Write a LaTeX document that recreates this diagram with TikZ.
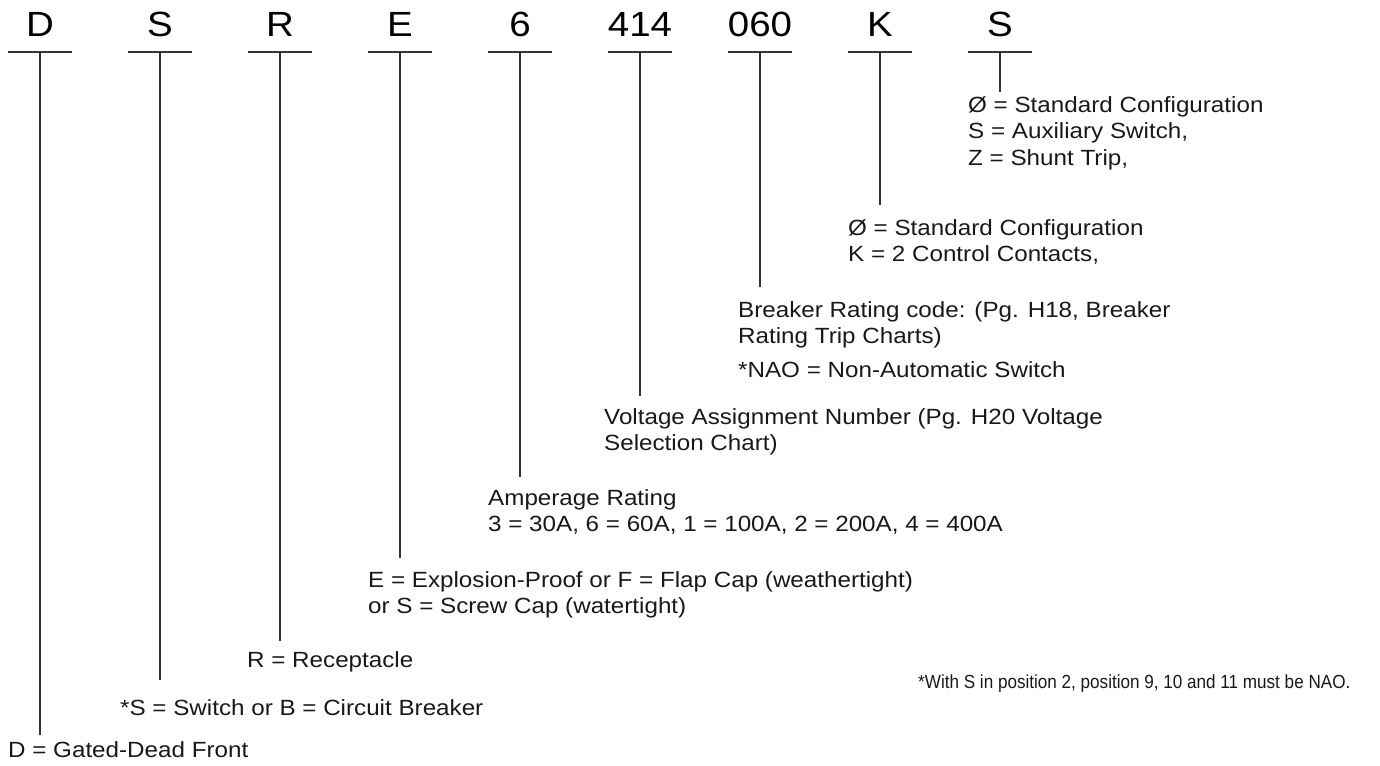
\documentclass[tikz,border=0pt]{standalone}
\usepackage{fontspec}
\setmainfont{Liberation Sans}[FakeStretch=1.1]
\newfontfamily\condfont{Liberation Sans}[FakeStretch=0.9]
\begin{document}
\begin{tikzpicture}[x=1pt,y=-1pt,
  rule/.style={line width=1.1pt, draw=black!80},
  code/.style={font=\fontsize{35}{40}\selectfont, anchor=base, inner sep=0pt},
  lbl/.style={font=\fontsize{22}{26}\selectfont, text=black!90, anchor=base west, inner sep=0pt},
  note/.style={font=\condfont\fontsize{19}{22}\selectfont, text=black!90, anchor=base west, inner sep=0pt}]
\useasboundingbox[fill=white] (0,0) rectangle (1380,765);
% heading characters
\foreach \n/\x/\t in {c1/40/D, c2/160/S, c3/280/R, c4/400/E, c5/520/6, c6/640/414, c7/760/060, c8/880/K, c9/1000/S}{
  \node[code] (\n) at (\x,37) {\t};
  \coordinate (\n u) at (\x,52);
  \draw[rule] (\x-32,52) -- (\x+32,52);
}
% line ends
\coordinate (e1) at (40,735);
\coordinate (e2) at (160,680);
\coordinate (e3) at (280,641);
\coordinate (e4) at (400,558);
\coordinate (e5) at (520,477);
\coordinate (e6) at (640,396);
\coordinate (e7) at (760,287);
\coordinate (e8) at (880,205);
\coordinate (e9) at (1000,92);
\foreach \i in {1,...,9}{\draw[rule] (c\i u) -- (e\i);}
% labels
\node[lbl] (s9a) at (968,113) {Ø = Standard Configuration};
\node[lbl] (s9b) at (968,139) {S = Auxiliary Switch,};
\node[lbl] (s9c) at (968,165) {Z = Shunt Trip,};
\node[lbl] (ka) at (848,235) {Ø = Standard Configuration};
\node[lbl] (kb) at (848,261) {K = 2 Control Contacts,};
\node[lbl] (ba) at (738,317) {Breaker Rating code: (Pg. H18, Breaker};
\node[lbl] (bb) at (738,343) {Rating Trip Charts)};
\node[lbl] (bc) at (738,377) {*NAO = Non-Automatic Switch};
\node[lbl] (va) at (604,424) {Voltage Assignment Number (Pg. H20 Voltage};
\node[lbl] (vb) at (604,450) {Selection Chart)};
\node[lbl] (aa) at (488,505) {Amperage Rating};
\node[lbl] (ab) at (488,531) {3 = 30A, 6 = 60A, 1 = 100A, 2 = 200A, 4 = 400A};
\node[lbl] (ea) at (368,587) {E = Explosion-Proof or F = Flap Cap (weathertight)};
\node[lbl] (eb) at (368,613) {or S = Screw Cap (watertight)};
\node[lbl] (ra) at (247,667) {R = Receptacle};
\node[lbl] (sa) at (120,715) {*S = Switch or B = Circuit Breaker};
\node[lbl] (da) at (8,757) {D = Gated-Dead Front};
\node[note] (fn) at (918,688) {*With S in position 2, position 9, 10 and 11 must be NAO.};
\end{tikzpicture}
\end{document}
